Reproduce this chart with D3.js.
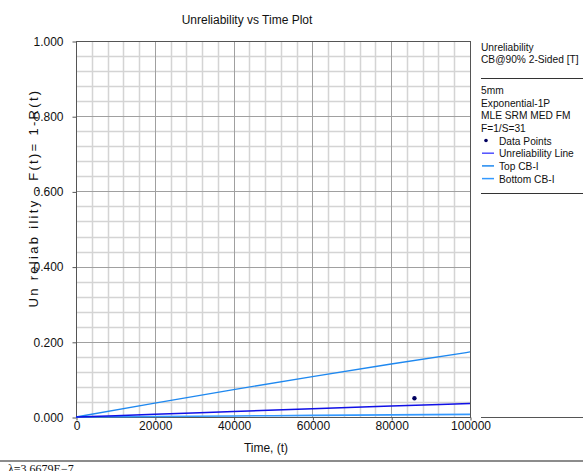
<!DOCTYPE html>
<html>
<head>
<meta charset="utf-8">
<script src="https://cdn.jsdelivr.net/npm/d3@7"></script>
<style>
  html, body { margin: 0; padding: 0; background: #fff; }
  svg { display: block; }
  text { font-family: "Liberation Sans", Arial, sans-serif; fill: #111; }
</style>
</head>
<body>
<svg id="chart" width="583" height="471"></svg>
<script>
// Time points (hours) at which the fitted curves are tabulated
const times = [0, 20000, 40000, 60000, 80000, 100000];
// Exponential-1P unreliability F(t) and its 90% 2-sided confidence bounds
const unrelLine = [0, 0.0073, 0.0146, 0.0218, 0.0290, 0.0360];
const topCB     = [0, 0.0370, 0.0727, 0.1075, 0.1410, 0.1730];
const bottomCB  = [0, 0.0014, 0.0028, 0.0042, 0.0056, 0.0070];
// Observed failure (median rank)
const pointTimes = [85900];
const pointF     = [0.0497];
// Axis ticks
const xTicks = [0, 20000, 40000, 60000, 80000, 100000];
const yTicks = [0, 0.2, 0.4, 0.6, 0.8, 1.0];
// Legend text
const legendHeader = ["Unreliability", "CB@90% 2-Sided [T]"];
const legendInfo = ["5mm", "Exponential-1P", "MLE SRM MED FM", "F=1/S=31"];
const legendItems = ["Data Points", "Unreliability Line", "Top CB-I", "Bottom CB-I"];

const svg = d3.select("#chart");
const plot = { left: 76, right: 470, top: 41, bottom: 417 };

const x = d3.scaleLinear().domain([0, 100000]).range([plot.left, plot.right]);
const y = d3.scaleLinear().domain([0, 1]).range([plot.bottom, plot.top]);

// Minor grid every 4000 h / 0.04, major every 20000 h / 0.2
const xMinor = d3.range(0, 100001, 4000).filter(v => v % 20000 !== 0);
const yMinor = d3.range(1, 25).map(i => i * 0.04).filter((v, i) => (i + 1) % 5 !== 0);

const grid = svg.append("g");
grid.selectAll(".xm").data(xMinor).join("line")
  .attr("x1", d => Math.round(x(d)) + 0.5).attr("x2", d => Math.round(x(d)) + 0.5)
  .attr("y1", plot.top).attr("y2", plot.bottom)
  .attr("stroke", "#d4d4d4").attr("stroke-width", 1.5);
grid.selectAll(".ym").data(yMinor).join("line")
  .attr("x1", plot.left).attr("x2", plot.right)
  .attr("y1", d => Math.round(y(d)) + 0.5).attr("y2", d => Math.round(y(d)) + 0.5)
  .attr("stroke", "#d4d4d4").attr("stroke-width", 1.5);
grid.selectAll(".xM").data(xTicks.slice(1, -1)).join("line")
  .attr("x1", d => Math.round(x(d)) + 0.5).attr("x2", d => Math.round(x(d)) + 0.5)
  .attr("y1", plot.top).attr("y2", plot.bottom)
  .attr("stroke", "#a0a0a0").attr("stroke-width", 1);
grid.selectAll(".yM").data(yTicks.slice(1, -1)).join("line")
  .attr("x1", plot.left).attr("x2", plot.right)
  .attr("y1", d => Math.round(y(d)) + 0.5).attr("y2", d => Math.round(y(d)) + 0.5)
  .attr("stroke", "#a0a0a0").attr("stroke-width", 1);

// Plot frame
svg.append("rect")
  .attr("x", plot.left + 0.5).attr("y", plot.top + 0.5)
  .attr("width", plot.right - plot.left).attr("height", plot.bottom - plot.top)
  .attr("fill", "none").attr("stroke", "#555").attr("stroke-width", 1);

// Axes
const yAxis = d3.axisLeft(y).tickValues(yTicks).tickFormat(d3.format(".3f")).tickSize(4).tickPadding(9);
const gy = svg.append("g").attr("transform", `translate(${plot.left + 0.5},0.5)`).call(yAxis);
gy.select(".domain").remove();
gy.selectAll("line").attr("stroke", "#555");
gy.selectAll("text").style("font-size", "12px").attr("fill", "#111");

const xAxis = d3.axisBottom(x).tickValues(xTicks).tickFormat(d3.format("d")).tickSize(3).tickPadding(1);
const gx = svg.append("g").attr("transform", `translate(0.5,${plot.bottom + 0.5})`).call(xAxis);
gx.select(".domain").remove();
gx.selectAll("line").attr("stroke", "#555");
gx.selectAll("text").style("font-size", "12px").attr("fill", "#111");

// Curves
const line = d3.line().x((d, i) => x(times[i])).y(d => y(d)).curve(d3.curveMonotoneX);
const curves = svg.append("g");
curves.append("path").datum(bottomCB).attr("d", line)
  .attr("fill", "none").attr("stroke", "#3399ff").attr("stroke-width", 1.6);
curves.append("path").datum(topCB).attr("d", line)
  .attr("fill", "none").attr("stroke", "#1e88f0").attr("stroke-width", 1.3);
curves.append("path").datum(unrelLine).attr("d", line)
  .attr("fill", "none").attr("stroke", "#1010e6").attr("stroke-width", 1.5);

svg.append("g").selectAll("circle").data(pointTimes).join("circle")
  .attr("cx", d => x(d)).attr("cy", (d, i) => y(pointF[i]))
  .attr("r", 2.2).attr("fill", "#000060");

// Titles
svg.append("text").attr("x", 247).attr("y", 24).attr("text-anchor", "middle")
  .style("font-size", "12px").text("Unreliability vs Time Plot");
svg.append("text").attr("x", 266).attr("y", 452).attr("text-anchor", "middle")
  .style("font-size", "12px").text("Time, (t)");
svg.append("text")
  .attr("transform", "translate(38,198) rotate(-90)")
  .attr("text-anchor", "middle")
  .style("font-size", "13px").style("letter-spacing", "2.3px")
  .text("Un reliab ility , F(t)= 1-R(t)");

// Legend panel
const lg = svg.append("g").style("font-size", "10.2px");
const lx = 481;
lg.selectAll(".h").data(legendHeader).join("text")
  .attr("x", lx).attr("y", (d, i) => 51 + i * 12).text(d => d);
lg.append("line").attr("x1", lx).attr("x2", 583).attr("y1", 78.5).attr("y2", 78.5)
  .attr("stroke", "#333").attr("stroke-width", 1);
lg.selectAll(".inf").data(legendInfo).join("text")
  .attr("x", lx).attr("y", (d, i) => 94 + i * 12.7).text(d => d);
const itemY = (i) => 144.5 + i * 12.7;
lg.selectAll(".it").data(legendItems).join("text")
  .attr("x", 499).attr("y", (d, i) => itemY(i)).text(d => d);
lg.append("circle").attr("cx", 486).attr("cy", itemY(0) - 4).attr("r", 1.8).attr("fill", "#000060");
const swatch = ["#5050ff", "#1e88f0", "#3399ff"];
lg.selectAll(".sw").data(swatch).join("line")
  .attr("x1", lx + 1).attr("x2", lx + 13)
  .attr("y1", (d, i) => itemY(i + 1) - 4).attr("y2", (d, i) => itemY(i + 1) - 4)
  .attr("stroke", d => d).attr("stroke-width", 1.5);
lg.append("line").attr("x1", lx).attr("x2", 583).attr("y1", 193.5).attr("y2", 193.5)
  .attr("stroke", "#333").attr("stroke-width", 1);
svg.append("line").attr("x1", lx).attr("x2", 583).attr("y1", 417.5).attr("y2", 417.5)
  .attr("stroke", "#555").attr("stroke-width", 1);

// Footer: fitted parameter
svg.append("line").attr("x1", 0).attr("x2", 583).attr("y1", 461).attr("y2", 461)
  .attr("stroke", "#666").attr("stroke-width", 1.5);
svg.append("text").attr("x", 8).attr("y", 473)
  .style("font-family", "'Liberation Serif', serif").style("font-size", "12px")
  .text("λ=3.6679E\u22127");
</script>
</body>
</html>
